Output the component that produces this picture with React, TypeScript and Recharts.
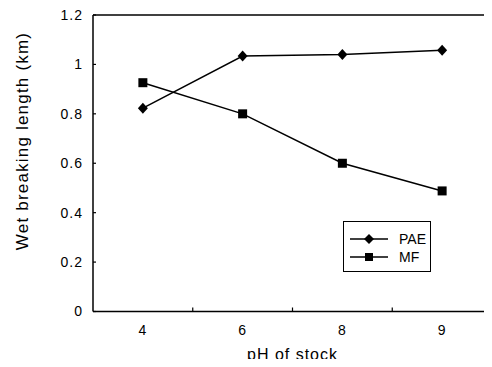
import { LineChart, Line, XAxis, YAxis, ReferenceLine } from 'recharts'

const phLabels = ['4', '6', '8', '9']
const paeValues = [0.823, 1.034, 1.04, 1.057]
const mfValues = [0.926, 0.8, 0.6, 0.488]
const yTicks = [0, 0.2, 0.4, 0.6, 0.8, 1, 1.2]

// category centres at i + 0.5, band edges at whole numbers (for the inner tick marks)
const data = phLabels.map((ph, i) => ({ ph, pos: i + 0.5, PAE: paeValues[i], MF: mfValues[i] }))
const xTicks = [0.5, 1, 1.5, 2, 2.5, 3, 3.5]

const FONT = '"Liberation Sans", Arial, sans-serif'

function Diamond(props: any) {
  const { cx, cy } = props
  if (cx == null || cy == null) return null
  return <polygon points={`${cx},${cy - 5.5} ${cx + 5},${cy} ${cx},${cy + 5.5} ${cx - 5},${cy}`} fill="#000" />
}

function Square(props: any) {
  const { cx, cy } = props
  if (cx == null || cy == null) return null
  return <rect x={cx - 4.5} y={cy - 4.5} width={9} height={9} fill="#000" />
}

function XTick(props: any) {
  const { x, y, payload } = props
  const v = payload.value
  if (Number.isInteger(v)) {
    return <line x1={x} x2={x} y1={y} y2={y - 4} stroke="#000" strokeWidth={1.2} />
  }
  return (
    <text x={x} y={y + 23} textAnchor="middle" fontSize={14} letterSpacing={1} fontFamily={FONT} fill="#000">
      {phLabels[Math.floor(v)]}
    </text>
  )
}

function XTitle(props: any) {
  const { viewBox } = props
  return (
    <text x={viewBox.x + viewBox.width / 2} y={viewBox.y + 48} textAnchor="middle"
      fontSize={16} letterSpacing={1} fontFamily={FONT} fill="#000">
      pH of stock
    </text>
  )
}

function YTitle(props: any) {
  const { viewBox } = props
  const x = viewBox.x + 14
  const y = 133
  return (
    <text x={x} y={y} transform={`rotate(-90 ${x} ${y})`} textAnchor="middle" dominantBaseline="central"
      fontSize={17} letterSpacing={1.2} fontFamily={FONT} fill="#000">
      Wet breaking length (km)
    </text>
  )
}

function LegendBox() {
  const rows = [
    { name: 'PAE', shape: 'diamond' },
    { name: 'MF', shape: 'square' },
  ]
  return (
    <div style={{ position: 'absolute', left: 335, top: 213, border: '1.5px solid #000', width: 88, height: 51, boxSizing: 'border-box', padding: '8px 0 0 6px', fontFamily: FONT, fontSize: 14, background: '#fff' }}>
      {rows.map(r => (
        <div key={r.name} style={{ display: 'flex', alignItems: 'center', height: 18 }}>
          <svg width={40} height={12} style={{ marginRight: 9 }}>
            <line x1={0} x2={38} y1={6} y2={6} stroke="#000" strokeWidth={1.5} />
            {r.shape === 'diamond'
              ? <polygon points="19,1 24,6 19,11 14,6" fill="#000" />
              : <rect x={15} y={2} width={8} height={8} fill="#000" />}
          </svg>
          <span>{r.name}</span>
        </div>
      ))}
    </div>
  )
}

export default function App() {
  return (
    <div style={{ position: 'relative', width: 484, height: 359, marginBottom: -8 }}>
      <LineChart width={484} height={359} data={data} margin={{ top: 7, right: 0, bottom: 0, left: 0 }}>
        <ReferenceLine y={1.2} stroke="#000" strokeWidth={1.5} />
        <XAxis dataKey="pos" type="number" domain={[0, 4]} ticks={xTicks} interval={0}
          height={55.5} tickSize={0} tickMargin={0} tickLine={false}
          axisLine={{ stroke: '#000', strokeWidth: 1.5 }} tick={<XTick />}
          label={<XTitle />} />
        <YAxis domain={[0, 1.2]} ticks={yTicks} width={85} interval={0}
          tickSize={-3} tickMargin={13}
          tickLine={{ stroke: '#000', strokeWidth: 1.2 }}
          axisLine={{ stroke: '#000', strokeWidth: 1.5 }}
          tick={{ fontSize: 14, letterSpacing: 1, fontFamily: FONT, fill: '#000' }}
          label={<YTitle />} />
        <Line dataKey="PAE" stroke="#000" strokeWidth={1.5} dot={<Diamond />} isAnimationActive={false} />
        <Line dataKey="MF" stroke="#000" strokeWidth={1.5} dot={<Square />} isAnimationActive={false} />
      </LineChart>
      <LegendBox />
    </div>
  )
}
